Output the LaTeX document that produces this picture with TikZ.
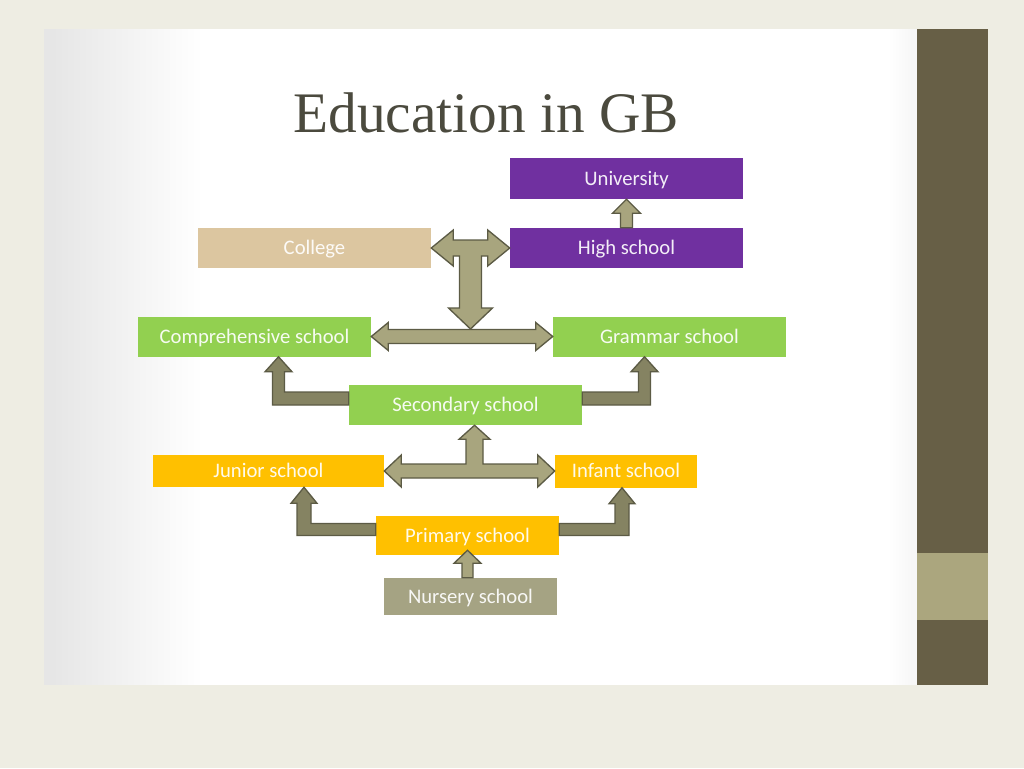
\documentclass[tikz,border=0pt]{standalone}
\usepackage{fontspec}
\newfontfamily\boxfont{Carlito}
\newfontfamily\titlefont{Liberation Serif}
\usetikzlibrary{calc}

\definecolor{pagebg}{HTML}{EEEDE3}
\definecolor{barDark}{HTML}{675F46}
\definecolor{barLight}{HTML}{ABA67E}
\definecolor{titleGray}{HTML}{4B4A3E}
\definecolor{uniPurple}{HTML}{7030A0}
\definecolor{collegeTan}{HTML}{DCC6A0}
\definecolor{schoolGreen}{HTML}{92D050}
\definecolor{schoolOrange}{HTML}{FFC000}
\definecolor{nurseryOlive}{HTML}{A5A383}
\definecolor{arrLight}{HTML}{A8A57E}
\definecolor{arrDark}{HTML}{858362}
\definecolor{arrLine}{HTML}{5C5B45}

\tikzset{
  schoolbox/.style 2 args={rectangle, inner sep=0pt, minimum width=#1*0.75pt,
    minimum height=#2*0.75pt, text=white, text opacity=.92,
    text height=9.8pt, text depth=0pt,
    font=\boxfont\fontsize{15.5}{18}\selectfont},
  lightarr/.style={fill=arrLight, draw=arrLine, line width=1pt},
  darkarr/.style={fill=arrDark, draw=arrLine, line width=1pt},
}

\begin{document}
\begin{tikzpicture}[x=0.75pt, y=-0.75pt]
\useasboundingbox (0,0) rectangle (1024,768);

% slide
\fill[pagebg] (0,0) rectangle (1024,768);
\fill[white] (44,29) rectangle (917,685);
\foreach \i in {0,...,24}
  \fill[black, opacity=.005] (44,29) rectangle ({200-\i*6},685);
\foreach \i in {0,...,7}
  \fill[black, opacity=.005] ({890+\i*3},29) rectangle (917,685);
\fill[barDark] (917,29) rectangle (988,685);
\fill[barLight] (917,553) rectangle (988,620);

\node[anchor=base, text=titleGray, font=\titlefont\fontsize{43}{50}\selectfont]
  (title) at (486,132) {Education in GB};

% schools
\node[schoolbox={233}{41}, fill=uniPurple] (univ) at (626.5,178.5) {University};
\node[schoolbox={233}{40}, fill=uniPurple] (high) at (626.5,248) {High school};
\node[schoolbox={233}{40}, fill=collegeTan] (college) at (314.5,248) {College};
\node[schoolbox={233}{40}, fill=schoolGreen] (comp) at (254.5,336.5) {Comprehensive school};
\node[schoolbox={233}{40}, fill=schoolGreen] (grammar) at (669.5,336.5) {Grammar school};
\node[schoolbox={233}{40}, fill=schoolGreen] (second) at (465.5,405) {Secondary school};
\node[schoolbox={231}{32}, fill=schoolOrange] (junior) at (268.5,471) {Junior school};
\node[schoolbox={142}{33}, fill=schoolOrange] (infant) at (626,471) {Infant school};
\node[schoolbox={183}{39}, fill=schoolOrange] (primary) at (467.5,535.5) {Primary school};
\node[schoolbox={173}{37}, fill=nurseryOlive] (nursery) at (470.5,596.5) {Nursery school};

% high school -> university
\draw[lightarr] ($(high.north)+(-6,0)$) -- ($(univ.south)+(-6,14)$) -- ++(-8,0)
  -- (univ.south) -- ++(14,14) -- ++(-8,0) -- ($(high.north)+(6,0)$) -- cycle;

% comprehensive <-> grammar
\draw[lightarr] (comp.east) -- ++(17,-14) -- ++(0,7) -- ($(grammar.west)+(-17,-7)$)
  -- ++(0,-7) -- (grammar.west) -- ++(-17,14) -- ++(0,-7) -- ($(comp.east)+(17,7)$)
  -- ++(0,7) -- cycle;

% college <-> high school, down to the row below
\coordinate (tmid) at ($(college.east)!.5!(high.west)$);
\coordinate (ttip) at ($(tmid)+(0,81)$);
\draw[lightarr] (college.east) -- ++(22,-18) -- ++(0,10) -- ($(high.west)+(-22,-8)$)
  -- ++(0,-10) -- (high.west) -- ++(-22,18) -- ++(0,-10) -- ($(tmid)+(11,8)$)
  -- ($(ttip)+(11,-21)$) -- ++(11,0) -- (ttip) -- ++(-22,-21) -- ++(11,0)
  -- ($(tmid)+(-11,8)$) -- ($(college.east)+(22,8)$) -- ++(0,10) -- cycle;

% secondary -> comprehensive, grammar
\coordinate (compin) at ($(comp.south)+(24,0)$);
\draw[darkarr] ($(second.west)+(0,-13)$) -- ($(second.west -| compin)+(6,-13)$)
  -- ($(compin)+(6,15)$) -- ++(7.5,0) -- (compin) -- ++(-13.5,15) -- ++(7.5,0)
  -- ($(second.west -| compin)+(-6,0)$) -- (second.west) -- cycle;
\coordinate (gramin) at ($(grammar.south)+(-25,0)$);
\draw[darkarr] ($(second.east)+(0,-13)$) -- ($(second.east -| gramin)+(-6,-13)$)
  -- ($(gramin)+(-6,15)$) -- ++(-7.5,0) -- (gramin) -- ++(13.5,15) -- ++(-7.5,0)
  -- ($(second.east -| gramin)+(6,0)$) -- (second.east) -- cycle;

% junior <-> infant, up to secondary
\coordinate (jimid) at ($(junior.east)!.5!(infant.west)+(5,0)$);
\draw[lightarr] (junior.east) -- ++(17,-16) -- ++(0,9) -- ($(jimid)+(-8.5,-7)$)
  -- ($(jimid |- second.south)+(-8.5,14)$) -- ++(-7,0) -- (jimid |- second.south)
  -- ++(15.5,14) -- ++(-7,0) -- ($(jimid)+(8.5,-7)$) -- ($(infant.west)+(-17,-7)$)
  -- ++(0,-9) -- (infant.west) -- ++(-17,16) -- ++(0,-9) -- ($(junior.east)+(17,7)$)
  -- ++(0,9) -- cycle;

% primary -> junior, infant
\coordinate (junin) at ($(junior.south)+(35.5,0)$);
\draw[darkarr] ($(primary.west)+(0,-12)$) -- ($(primary.west -| junin)+(7,-12)$)
  -- ($(junin)+(7,16)$) -- ++(6,0) -- (junin) -- ++(-13,16) -- ++(6,0)
  -- ($(primary.west -| junin)+(-7,0)$) -- (primary.west) -- cycle;
\coordinate (infin) at ($(infant.south)+(-4,0)$);
\draw[darkarr] ($(primary.east)+(0,-12)$) -- ($(primary.east -| infin)+(-7,-12)$)
  -- ($(infin)+(-7,16)$) -- ++(-6,0) -- (infin) -- ++(13,16) -- ++(-6,0)
  -- ($(primary.east -| infin)+(7,0)$) -- (primary.east) -- cycle;

% nursery -> primary
\coordinate (priin) at ($(primary.south)+(0,-5)$);
\draw[lightarr] ($(nursery.north -| priin)+(-5.5,0)$) -- ($(priin)+(-5.5,13)$)
  -- ++(-8,0) -- (priin) -- ++(13.5,13) -- ++(-8,0)
  -- ($(nursery.north -| priin)+(5.5,0)$) -- cycle;

\end{tikzpicture}
\end{document}
